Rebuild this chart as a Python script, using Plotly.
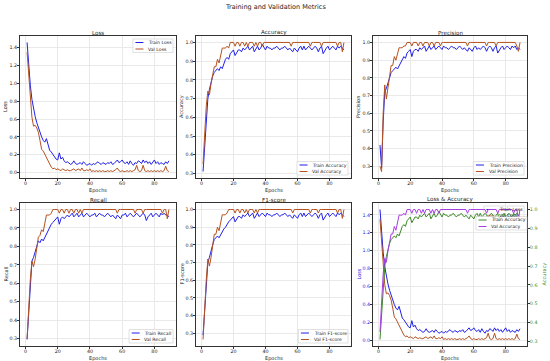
import plotly.graph_objects as go

train_loss = [1.46, 1.20, 0.98, 0.82, 0.70, 0.63, 0.56, 0.50, 0.44, 0.40,
              0.36, 0.34, 0.38, 0.30, 0.25, 0.23, 0.20, 0.17, 0.15, 0.14,
              0.22, 0.15, 0.17, 0.13, 0.11, 0.12, 0.10, 0.09, 0.10, 0.13,
              0.10, 0.09, 0.10, 0.11, 0.09, 0.12, 0.10, 0.08, 0.09, 0.10,
              0.08, 0.10, 0.09, 0.11, 0.12, 0.10, 0.09, 0.11, 0.10, 0.09,
              0.11, 0.10, 0.12, 0.09, 0.10, 0.12, 0.14, 0.11, 0.12, 0.14,
              0.11, 0.10, 0.12, 0.09, 0.13, 0.10, 0.08, 0.11, 0.10, 0.13,
              0.12, 0.10, 0.14, 0.11, 0.13, 0.10, 0.12, 0.09, 0.11, 0.14,
              0.10, 0.12, 0.09, 0.11, 0.10, 0.09, 0.12, 0.10, 0.13]
val_loss = [1.35, 1.08, 0.82, 0.62, 0.52, 0.53, 0.50, 0.45, 0.36, 0.26,
            0.24, 0.20, 0.16, 0.12, 0.08, 0.06, 0.04, 0.05, 0.03, 0.04,
            0.03, 0.02, 0.04, 0.03, 0.02, 0.03, 0.02, 0.02, 0.03, 0.04,
            0.02, 0.03, 0.04, 0.02, 0.05, 0.02, 0.02, 0.03, 0.02, 0.04,
            0.01, 0.02, 0.01, 0.02, 0.01, 0.02, 0.01, 0.02, 0.01, 0.01,
            0.02, 0.01, 0.02, 0.01, 0.02, 0.03, 0.05, 0.02, 0.01, 0.02,
            0.01, 0.01, 0.02, 0.01, 0.02, 0.01, 0.02, 0.03, 0.08, 0.02,
            0.01, 0.02, 0.08, 0.02, 0.01, 0.02, 0.01, 0.02, 0.01, 0.02,
            0.01, 0.02, 0.01, 0.02, 0.01, 0.02, 0.07, 0.02, 0.01]
train_acc = [0.31, 0.46, 0.60, 0.70, 0.75, 0.79, 0.82, 0.84, 0.85, 0.86,
             0.85, 0.87, 0.86, 0.89, 0.91, 0.92, 0.91, 0.94, 0.95, 0.96,
             0.93, 0.95, 0.96, 0.96, 0.95, 0.97, 0.96, 0.97, 0.98, 0.96,
             0.97, 0.98, 0.95, 0.97, 0.98, 0.96, 0.97, 0.99, 0.97, 0.96,
             0.98, 0.97, 0.97, 0.96, 0.97, 0.97, 0.98, 0.97, 0.96, 0.97,
             0.97, 0.98, 0.97, 0.96, 0.97, 0.96, 0.95, 0.97, 0.96, 0.95,
             0.97, 0.98, 0.96, 0.98, 0.96, 0.97, 0.98, 0.97, 0.96, 0.97,
             0.98, 0.97, 0.95, 0.97, 0.98, 0.94, 0.96, 0.97, 0.98, 0.96,
             0.97, 0.98, 0.97, 0.96, 0.98, 0.97, 0.98, 0.97, 0.96]
val_acc = [0.35, 0.52, 0.66, 0.74, 0.72, 0.78, 0.82, 0.87, 0.87, 0.91,
           0.89, 0.93, 0.97, 0.97, 0.97, 0.98, 0.97, 1.00, 1.00, 1.00,
           0.98, 1.00, 1.00, 0.98, 1.00, 1.00, 0.98, 1.00, 0.98, 1.00,
           1.00, 1.00, 0.98, 1.00, 0.98, 1.00, 1.00, 0.98, 1.00, 1.00,
           1.00, 1.00, 1.00, 1.00, 1.00, 1.00, 1.00, 1.00, 1.00, 1.00,
           1.00, 1.00, 1.00, 1.00, 1.00, 0.98, 1.00, 1.00, 1.00, 1.00,
           1.00, 1.00, 1.00, 1.00, 1.00, 1.00, 1.00, 0.98, 1.00, 1.00,
           1.00, 1.00, 1.00, 1.00, 0.98, 1.00, 1.00, 1.00, 1.00, 1.00,
           1.00, 1.00, 1.00, 1.00, 0.98, 1.00, 1.00, 0.95, 1.00]
train_prec = [0.42, 0.29, 0.55, 0.72, 0.74, 0.77, 0.80, 0.83, 0.84, 0.85,
              0.86, 0.85, 0.87, 0.88, 0.90, 0.92, 0.91, 0.94, 0.95, 0.96,
              0.92, 0.95, 0.96, 0.96, 0.95, 0.97, 0.96, 0.97, 0.98, 0.95,
              0.97, 0.98, 0.96, 0.97, 0.98, 0.96, 0.97, 0.98, 0.97, 0.96,
              0.98, 0.97, 0.97, 0.96, 0.97, 0.98, 0.97, 0.97, 0.96, 0.97,
              0.98, 0.97, 0.96, 0.97, 0.96, 0.95, 0.97, 0.96, 0.95, 0.97,
              0.98, 0.96, 0.97, 0.96, 0.97, 0.98, 0.97, 0.95, 0.97, 0.98,
              0.97, 0.95, 0.97, 0.98, 0.94, 0.96, 0.97, 0.98, 0.96, 0.97,
              0.98, 0.97, 0.96, 0.98, 0.97, 0.98, 0.96, 0.97, 0.96]
val_prec = [0.30, 0.27, 0.60, 0.76, 0.68, 0.74, 0.80, 0.87, 0.87, 0.92,
            0.90, 0.93, 0.97, 0.97, 0.97, 0.98, 0.98, 1.00, 1.00, 1.00,
            0.98, 1.00, 1.00, 1.00, 0.98, 1.00, 1.00, 0.98, 1.00, 1.00,
            1.00, 0.98, 1.00, 1.00, 0.98, 1.00, 1.00, 1.00, 0.98, 1.00,
            1.00, 1.00, 1.00, 1.00, 1.00, 1.00, 1.00, 1.00, 1.00, 1.00,
            1.00, 1.00, 1.00, 1.00, 1.00, 0.98, 1.00, 1.00, 1.00, 1.00,
            1.00, 1.00, 1.00, 1.00, 1.00, 1.00, 1.00, 0.98, 1.00, 1.00,
            1.00, 1.00, 1.00, 0.98, 1.00, 1.00, 1.00, 1.00, 1.00, 1.00,
            1.00, 1.00, 1.00, 1.00, 1.00, 1.00, 0.98, 0.95, 1.00]
train_rec = [0.295, 0.45, 0.60, 0.72, 0.74, 0.77, 0.80, 0.83, 0.82, 0.84,
             0.83, 0.85, 0.86, 0.88, 0.90, 0.92, 0.93, 0.94, 0.95, 0.96,
             0.92, 0.95, 0.96, 0.95, 0.96, 0.97, 0.96, 0.97, 0.98, 0.96,
             0.97, 0.98, 0.96, 0.97, 0.98, 0.96, 0.97, 0.98, 0.97, 0.96,
             0.97, 0.97, 0.98, 0.96, 0.97, 0.98, 0.97, 0.97, 0.96, 0.97,
             0.98, 0.97, 0.96, 0.97, 0.96, 0.95, 0.97, 0.96, 0.95, 0.97,
             0.97, 0.98, 0.96, 0.97, 0.98, 0.97, 0.96, 0.97, 0.98, 0.97,
             0.96, 0.97, 0.98, 0.97, 0.94, 0.96, 0.97, 0.98, 0.96, 0.97,
             0.98, 0.97, 0.96, 0.98, 0.97, 0.98, 0.97, 0.97, 0.96]
val_rec = [0.30, 0.48, 0.62, 0.72, 0.69, 0.73, 0.79, 0.85, 0.86, 0.89,
           0.88, 0.93, 0.97, 0.97, 0.97, 0.98, 1.00, 1.00, 1.00, 1.00,
           0.98, 1.00, 1.00, 0.98, 1.00, 1.00, 0.98, 1.00, 1.00, 0.98,
           1.00, 1.00, 0.98, 1.00, 0.98, 1.00, 1.00, 1.00, 1.00, 1.00,
           1.00, 1.00, 1.00, 1.00, 1.00, 1.00, 1.00, 1.00, 1.00, 1.00,
           1.00, 1.00, 1.00, 1.00, 1.00, 1.00, 0.98, 1.00, 1.00, 1.00,
           1.00, 1.00, 1.00, 1.00, 1.00, 1.00, 1.00, 0.98, 1.00, 1.00,
           1.00, 1.00, 0.98, 1.00, 1.00, 1.00, 1.00, 1.00, 1.00, 1.00,
           1.00, 1.00, 1.00, 1.00, 0.98, 1.00, 1.00, 0.95, 1.00]
train_f1 = [0.29, 0.42, 0.60, 0.70, 0.73, 0.77, 0.80, 0.83, 0.84, 0.85,
            0.84, 0.86, 0.87, 0.89, 0.90, 0.92, 0.93, 0.94, 0.95, 0.96,
            0.93, 0.95, 0.96, 0.96, 0.95, 0.97, 0.96, 0.97, 0.98, 0.96,
            0.97, 0.98, 0.95, 0.97, 0.98, 0.96, 0.97, 0.98, 0.97, 0.96,
            0.98, 0.97, 0.97, 0.96, 0.97, 0.97, 0.98, 0.97, 0.96, 0.97,
            0.97, 0.98, 0.97, 0.96, 0.97, 0.96, 0.95, 0.97, 0.96, 0.95,
            0.97, 0.98, 0.96, 0.98, 0.96, 0.97, 0.98, 0.97, 0.96, 0.97,
            0.98, 0.97, 0.95, 0.97, 0.98, 0.94, 0.96, 0.97, 0.98, 0.96,
            0.97, 0.98, 0.97, 0.96, 0.98, 0.97, 0.98, 0.97, 0.96]
val_f1 = [0.265, 0.45, 0.60, 0.72, 0.68, 0.73, 0.79, 0.86, 0.86, 0.90,
          0.88, 0.93, 0.97, 0.97, 0.97, 0.98, 1.00, 1.00, 1.00, 1.00,
          0.98, 1.00, 1.00, 0.98, 1.00, 1.00, 0.98, 1.00, 0.98, 1.00,
          1.00, 1.00, 0.98, 1.00, 0.98, 1.00, 1.00, 1.00, 1.00, 1.00,
          1.00, 1.00, 1.00, 1.00, 1.00, 1.00, 1.00, 1.00, 1.00, 1.00,
          1.00, 1.00, 1.00, 1.00, 1.00, 1.00, 0.98, 1.00, 1.00, 1.00,
          1.00, 1.00, 1.00, 1.00, 1.00, 1.00, 1.00, 0.98, 1.00, 1.00,
          1.00, 1.00, 0.98, 1.00, 1.00, 1.00, 1.00, 1.00, 1.00, 1.00,
          1.00, 1.00, 1.00, 1.00, 0.98, 1.00, 1.00, 0.95, 1.00]

x_ticks = [0, 20, 40, 60, 80]
loss_ticks = [0.0, 0.2, 0.4, 0.6, 0.8, 1.0, 1.2, 1.4]
metric_ticks = [0.3, 0.4, 0.5, 0.6, 0.7, 0.8, 0.9, 1.0]

W, H = 550, 361
FONT = "DejaVu Sans"
TXT = "#222222"
BLUE = "#2020e8"
BROWN = "#b5521f"
GREEN = "#3a8a26"
VIOLET = "#a73fe0"

def ep(y):
    return list(range(1, len(y) + 1))

def padded(lo, hi):
    span = hi - lo
    return [lo - 0.05 * span, hi + 0.05 * span]

cols = [(20, 176), (196, 351), (373, 527)]
rows = [(36, 178), (203, 346)]

def X(px):
    return px / W

def Y(py):
    return 1 - py / H

def xd(c):
    return [X(cols[c][0]), X(cols[c][1])]

def yd(r):
    return [Y(rows[r][1]), Y(rows[r][0])]

EM = {"A": .684, "C": .698, "E": .632, "F": .575, "L": .557, "P": .603, "R": .695,
      "T": .611, "V": .684, "a": .613, "c": .550, "e": .615, "i": .278, "l": .278,
      "n": .634, "o": .612, "r": .411, "s": .521, "t": .392, "u": .634, "y": .592,
      "p": .635, "h": .634, "d": .635, "g": .635, "1": .636, " ": .318, "-": .361}

def text_w(s, fs):
    return sum(EM.get(ch, 0.6) for ch in s) * fs

shapes = []
annotations = []

LFS = 4.6

def add_legend(items, right, top=None, bottom=None, frame=True, layer="above"):
    pad, handle, gap, rowh = 2.6, 8.0, 2.6, 6.5
    w = pad + handle + gap + max(text_w(n, LFS) for n, _ in items) + pad + 1
    h = 7.0 + rowh * (len(items) - 1)
    if top is None:
        top = bottom - h
    left = right - w
    if frame:
        shapes.append(dict(type="rect", xref="paper", yref="paper", layer=layer,
                           x0=X(left), x1=X(right), y0=Y(top + h), y1=Y(top),
                           fillcolor="rgba(255,255,255,0.85)",
                           line=dict(color="#cccccc", width=0.6)))
    for k, (name, color) in enumerate(items):
        yy = top + 3.5 + k * rowh
        shapes.append(dict(type="line", xref="paper", yref="paper", layer=layer,
                           x0=X(left + pad), x1=X(left + pad + handle), y0=Y(yy), y1=Y(yy),
                           line=dict(color=color, width=1)))
        annotations.append(dict(text=name, x=X(left + pad + handle + gap), y=Y(yy),
                                xref="paper", yref="paper", xanchor="left", yanchor="middle",
                                showarrow=False, font=dict(size=LFS, family=FONT, color=TXT)))

fig = go.Figure()

panels = [
    ("Loss", "Loss", train_loss, val_loss, "Train Loss", "Val Loss", loss_ticks, "top"),
    ("Accuracy", "Accuracy", train_acc, val_acc, "Train Accuracy", "Val Accuracy", metric_ticks, "bottom"),
    ("Precision", "Precision", train_prec, val_prec, "Train Precision", "Val Precision", metric_ticks, "bottom"),
    ("Recall", "Recall", train_rec, val_rec, "Train Recall", "Val Recall", metric_ticks, "bottom"),
    ("F1-score", "F1-score", train_f1, val_f1, "Train F1-score", "Val F1-score", metric_ticks, "bottom"),
]

axis_common = dict(
    showline=True, linecolor="#333333", linewidth=0.8, mirror=True,
    ticks="outside", ticklen=2, tickwidth=0.6, tickcolor="#333333",
    tickfont=dict(size=4.8, family=FONT, color=TXT),
    showgrid=True, gridcolor="#e9e9e9", gridwidth=0.5,
    zeroline=False, automargin=False,
)
x_common = dict(axis_common, ticklabelstandoff=-2)
y_common = dict(axis_common, ticklabelstandoff=-1)

layout = {}
xrange_ = padded(1, len(train_loss))

def fmt(v):
    return "%.1f" % v

def add_labels(c, r, title, ylab, ycolor=TXT):
    cx = X((cols[c][0] + cols[c][1]) / 2)
    annotations.append(dict(text=title, x=cx, y=Y(rows[r][0] - 3.5),
                            xref="paper", yref="paper", xanchor="center", yanchor="middle",
                            showarrow=False, font=dict(size=5.6, family=FONT, color=TXT)))
    annotations.append(dict(text="Epochs", x=cx, y=Y(rows[r][1] + 12),
                            xref="paper", yref="paper", xanchor="center", yanchor="middle",
                            showarrow=False, font=dict(size=5, family=FONT, color=TXT)))
    if ylab:
        annotations.append(dict(text=ylab, x=X(cols[c][0] - 15), y=(Y(rows[r][0]) + Y(rows[r][1])) / 2,
                                xref="paper", yref="paper", xanchor="center", yanchor="middle",
                                textangle=-90, showarrow=False,
                                font=dict(size=5, family=FONT, color=ycolor)))

for i, (title, ylab, tr, va, trn, van, yt, lpos) in enumerate(panels):
    r, c = divmod(i, 3)
    n = i + 1
    xa = "x" if n == 1 else "x%d" % n
    ya = "y" if n == 1 else "y%d" % n
    fig.add_trace(go.Scatter(x=ep(tr), y=tr, mode="lines", name=trn, showlegend=False,
                             line=dict(color=BLUE, width=1), xaxis=xa, yaxis=ya))
    fig.add_trace(go.Scatter(x=ep(va), y=va, mode="lines", name=van, showlegend=False,
                             line=dict(color=BROWN, width=1), xaxis=xa, yaxis=ya))
    lo = min(min(tr), min(va))
    hi = max(max(tr), max(va))
    layout["xaxis" if n == 1 else "xaxis%d" % n] = dict(
        x_common, domain=xd(c), anchor=ya, range=xrange_, tickvals=x_ticks)
    layout["yaxis" if n == 1 else "yaxis%d" % n] = dict(
        y_common, domain=yd(r), anchor=xa, range=padded(lo, hi), tickvals=yt,
        ticktext=[fmt(v) for v in yt])
    items = [(trn, BLUE), (van, BROWN)]
    if lpos == "top":
        add_legend(items, cols[c][1] - 3, top=rows[r][0] + 3)
    else:
        add_legend(items, cols[c][1] - 3, bottom=rows[r][1] - 3)
    add_labels(c, r, title, ylab)

# Panel 6: Loss & Accuracy with twin y axes
fig.add_trace(go.Scatter(x=ep(train_loss), y=train_loss, mode="lines", name="Train Loss", showlegend=False,
                         line=dict(color=BLUE, width=1), xaxis="x6", yaxis="y6"))
fig.add_trace(go.Scatter(x=ep(val_loss), y=val_loss, mode="lines", name="Val Loss", showlegend=False,
                         line=dict(color=BROWN, width=1), xaxis="x6", yaxis="y6"))
fig.add_trace(go.Scatter(x=ep(train_acc), y=train_acc, mode="lines", name="Train Accuracy", showlegend=False,
                         line=dict(color=GREEN, width=1), xaxis="x6", yaxis="y7"))
fig.add_trace(go.Scatter(x=ep(val_acc), y=val_acc, mode="lines", name="Val Accuracy", showlegend=False,
                         line=dict(color=VIOLET, width=1), xaxis="x6", yaxis="y7"))

layout["xaxis6"] = dict(x_common, domain=xd(2), anchor="y6", range=xrange_, tickvals=x_ticks)
layout["yaxis6"] = dict(y_common, domain=yd(1), anchor="x6",
                        range=padded(min(val_loss), max(train_loss)),
                        tickvals=loss_ticks, ticktext=[fmt(v) for v in loss_ticks],
                        tickfont=dict(size=4.8, family=FONT, color=BLUE))
layout["yaxis7"] = dict(y_common, overlaying="y6", anchor="x6", side="right",
                        range=padded(min(train_acc), max(val_acc)), tickvals=metric_ticks,
                        ticktext=[fmt(v) for v in metric_ticks], showgrid=False, mirror=False,
                        tickfont=dict(size=4.8, family=FONT, color=GREEN))
add_legend([("Train Loss", BLUE), ("Val Loss", BROWN)], cols[2][1] - 3, top=rows[1][0] + 3,
           frame=True, layer="between")
add_legend([("Train Accuracy", GREEN), ("Val Accuracy", VIOLET)], cols[2][1], top=rows[1][0] + 13.5)
add_labels(2, 1, "Loss & Accuracy", "Loss", BLUE)
annotations.append(dict(text="Accuracy", x=X(cols[2][1] + 17), y=(Y(rows[1][0]) + Y(rows[1][1])) / 2,
                        xref="paper", yref="paper", xanchor="center", yanchor="middle",
                        textangle=-90, showarrow=False, font=dict(size=5, family=FONT, color=GREEN)))

annotations.append(dict(text="Training and Validation Metrics", x=0.5, y=Y(7),
                        xref="paper", yref="paper", xanchor="center", yanchor="middle",
                        showarrow=False, font=dict(size=6.5, family=FONT, color=TXT)))

fig.update_layout(
    width=W, height=H,
    margin=dict(l=0, r=0, t=0, b=0),
    paper_bgcolor="white", plot_bgcolor="white",
    showlegend=False,
    annotations=annotations,
    shapes=shapes,
    font=dict(family=FONT),
    **layout,
)

fig.write_html("out.html", config={"displayModeBar": False},
               post_script="document.body.style.margin='0';")
